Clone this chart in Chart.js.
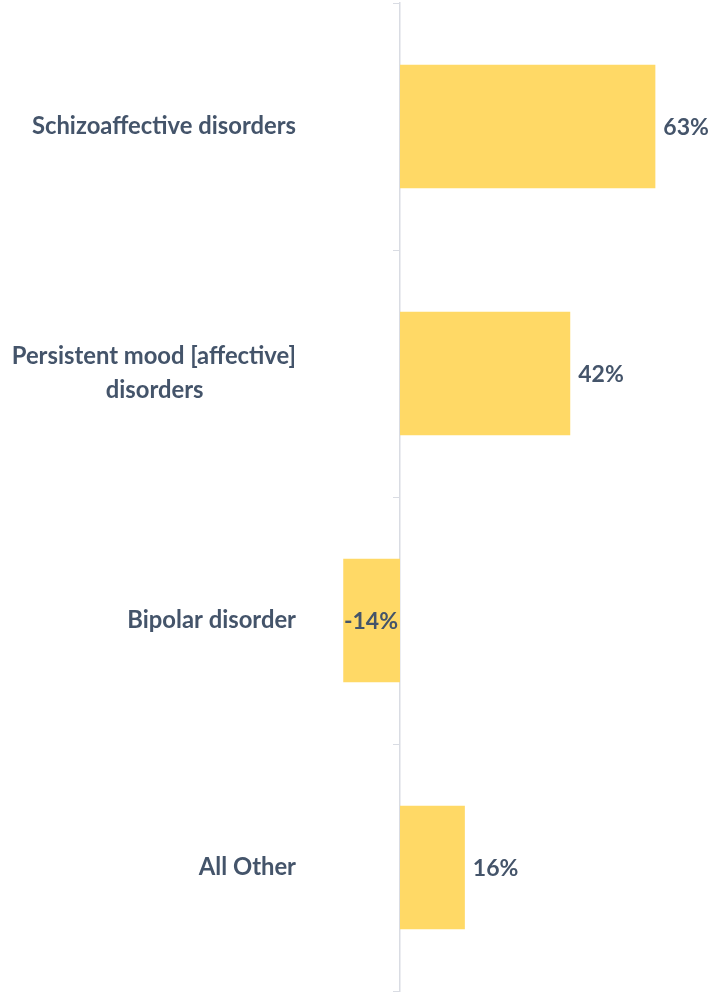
<!DOCTYPE html>
<html><head><meta charset="utf-8">
<script src="https://cdn.jsdelivr.net/npm/chart.js@4.4.0/dist/chart.umd.min.js"></script>
<style>html,body{margin:0;padding:0;background:#fff;}#wrap{width:718px;height:994px;position:relative;}</style>
</head><body><div id="wrap"><canvas id="c"></canvas></div>
<script>
const categories = ["Schizoaffective disorders", ["Persistent mood [affective]", "disorders"], "Bipolar disorder", "All Other"];
const values = [63, 42, -14, 16];
const xMin = 0, xMax = 75;

const FONT_FAMILY = 'Lato';
const FONT_SIZE = 23.8;
const VALUE_FONT_SIZE = 23;
const LINE_HEIGHT_PX = 33.5;
const TEXT_COLOR = '#44546A';
const BAR_COLOR = '#FFD966';
const AXIS_COLOR = '#D9DCE3';

const mctx = document.createElement('canvas').getContext('2d');
mctx.font = `bold ${FONT_SIZE}px ${FONT_FAMILY}`;
function centeredLabel(label){
  if (!Array.isArray(label)) return label;
  const widths = label.map(l => mctx.measureText(l).width);
  const W = Math.max(...widths);
  const sp = mctx.measureText(' ').width;
  return label.map((l, i) => l + ' '.repeat(Math.max(0, Math.round((W - widths[i]) / 2 / sp))));
}

const valueLabels = {
  id: 'valueLabels',
  afterDatasetsDraw(chart){
    const ctx = chart.ctx, meta = chart.getDatasetMeta(0);
    const zeroX = chart.scales.x.getPixelForValue(0);
    ctx.save();
    ctx.font = `bold ${VALUE_FONT_SIZE}px ${FONT_FAMILY}`;
    ctx.fillStyle = TEXT_COLOR;
    ctx.textBaseline = 'middle';
    meta.data.forEach((el, i) => {
      const v = values[i], t = v + '%';
      if (v >= 0) { ctx.textAlign = 'left'; ctx.fillText(t, el.x + 8, el.y + 1); }
      else { ctx.textAlign = 'right'; ctx.fillText(t, zeroX - 2, el.y + 1); }
    });
    ctx.restore();
  }
};

new Chart(document.getElementById('c'), {
  type: 'bar',
  data: { labels: categories, datasets: [{ data: values, backgroundColor: BAR_COLOR, borderWidth: 0, barPercentage: 0.5, categoryPercentage: 1, clip: false }] },
  options: {
    indexAxis: 'y', responsive: true, maintainAspectRatio: false, animation: false,
    layout: { padding: { top: 3, bottom: 3, left: 0, right: 14 } },
    plugins: { legend: { display: false }, tooltip: { enabled: false } },
    scales: {
      x: { display: false, min: xMin, max: xMax },
      y: {
        z: 1,
        afterFit(s){ s.width = 400; s.paddingTop = 0; s.paddingBottom = 0; },
        grid: { offset: true, drawOnChartArea: false, drawTicks: true, tickLength: 7, color: AXIS_COLOR, lineWidth: 1 },
        border: { display: true, color: AXIS_COLOR, width: 1.5 },
        ticks: {
          padding: 97, color: TEXT_COLOR,
          font: { family: FONT_FAMILY, size: FONT_SIZE, weight: 'bold', lineHeight: LINE_HEIGHT_PX / FONT_SIZE },
          callback(v, i){ return centeredLabel(categories[i]); }
        }
      }
    }
  },
  plugins: [valueLabels]
});
</script></body></html>
